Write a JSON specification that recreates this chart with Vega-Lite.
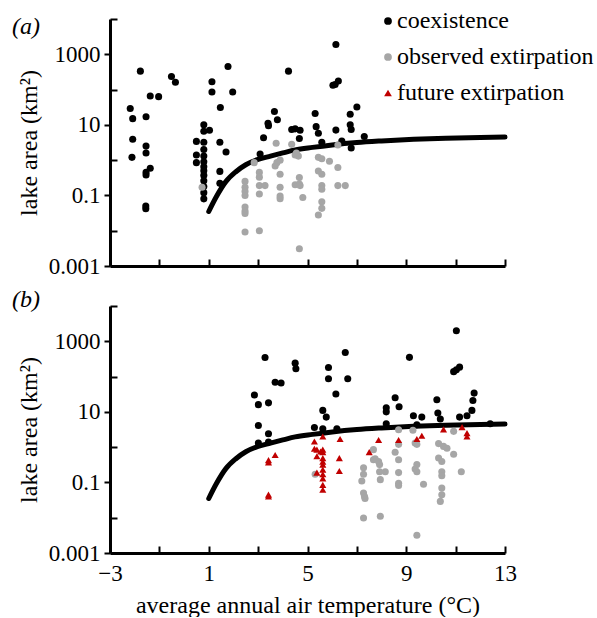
{
  "$schema": "https://vega.github.io/schema/vega-lite/v6.json",
  "padding": {"left": 12, "top": 8, "right": 0, "bottom": 0},
  "config": {
    "font": "Liberation Serif",
    "view": {"stroke": null},
    "axis": {"grid": false, "domainColor": "#000", "domainWidth": 3, "tickColor": "#000", "tickWidth": 2, "labelColor": "#000", "titleColor": "#000", "labelFont": "Liberation Serif", "titleFont": "Liberation Serif", "labelFontSize": 23, "titleFontSize": 24, "titleFontWeight": "normal", "labelFlush": false, "labelOverlap": false},
    "title": {"font": "Liberation Serif", "fontSize": 24, "fontWeight": "normal", "fontStyle": "italic", "color": "#000"},
    "legend": {"labelFont": "Liberation Serif", "labelFontSize": 24, "labelColor": "#000", "labelLimit": 400, "symbolSize": 60, "symbolStrokeWidth": 0, "labelOffset": -3, "rowPadding": 12, "padding": 0}
  },
  "datasets": {
    "curve": [
      {"t": 1, "a": 0.035}, {"t": 1.3, "a": 0.09}, {"t": 1.7, "a": 0.25}, {"t": 2.1, "a": 0.47}, {"t": 2.5, "a": 0.74}, {"t": 3.0, "a": 1.05}, {"t": 3.5, "a": 1.3}, {"t": 4.0, "a": 1.6}, {"t": 4.5, "a": 1.95}, {"t": 5.2, "a": 2.3}, {"t": 6.0, "a": 2.7}, {"t": 7.0, "a": 3.15}, {"t": 8.0, "a": 3.5}, {"t": 9.3, "a": 3.9}, {"t": 10.6, "a": 4.2}, {"t": 12, "a": 4.4}, {"t": 13, "a": 4.5}
    ],
    "pa": [
      {"t": -2.18, "a": 29, "s": "coexistence"}, {"t": -2.08, "a": 15, "s": "coexistence"}, {"t": -2.08, "a": 3.9, "s": "coexistence"}, {"t": -2.11, "a": 1.2, "s": "coexistence"}, {"t": -1.77, "a": 333, "s": "coexistence"}, {"t": -1.54, "a": 17, "s": "coexistence"}, {"t": -1.54, "a": 2.5, "s": "coexistence"}, {"t": -1.54, "a": 1.6, "s": "coexistence"}, {"t": -1.37, "a": 66, "s": "coexistence"}, {"t": -1.03, "a": 63, "s": "coexistence"}, {"t": -1.37, "a": 0.59, "s": "coexistence"}, {"t": -1.54, "a": 0.45, "s": "coexistence"}, {"t": -1.54, "a": 0.38, "s": "coexistence"}, {"t": -1.55, "a": 0.05, "s": "coexistence"}, {"t": -1.55, "a": 0.042, "s": "coexistence"}, {"t": -0.51, "a": 234, "s": "coexistence"}, {"t": -0.35, "a": 162, "s": "coexistence"},
      {"t": 0.5, "a": 3.4, "s": "coexistence"}, {"t": 0.5, "a": 1.4, "s": "coexistence"}, {"t": 0.5, "a": 0.85, "s": "coexistence"}, {"t": 0.8, "a": 10, "s": "coexistence"}, {"t": 0.8, "a": 6.6, "s": "coexistence"}, {"t": 0.8, "a": 3.2, "s": "coexistence"}, {"t": 0.8, "a": 2.0, "s": "coexistence"}, {"t": 0.8, "a": 1.3, "s": "coexistence"}, {"t": 0.8, "a": 0.9, "s": "coexistence"}, {"t": 0.8, "a": 0.65, "s": "coexistence"}, {"t": 0.8, "a": 0.5, "s": "coexistence"}, {"t": 0.8, "a": 0.37, "s": "coexistence"}, {"t": 0.8, "a": 0.26, "s": "coexistence"}, {"t": 0.8, "a": 0.18, "s": "coexistence"}, {"t": 0.8, "a": 0.12, "s": "coexistence"}, {"t": 0.8, "a": 0.08, "s": "coexistence"}, {"t": 1.03, "a": 7, "s": "coexistence"}, {"t": 1.13, "a": 166, "s": "coexistence"}, {"t": 1.13, "a": 85, "s": "coexistence"}, {"t": 1.47, "a": 31, "s": "coexistence"}, {"t": 1.45, "a": 3.2, "s": "coexistence"}, {"t": 1.45, "a": 0.48, "s": "coexistence"}, {"t": 1.45, "a": 0.22, "s": "coexistence"}, {"t": 1.7, "a": 1.7, "s": "coexistence"}, {"t": 1.78, "a": 450, "s": "coexistence"}, {"t": 1.97, "a": 85, "s": "coexistence"},
      {"t": 3.08, "a": 1.5, "s": "coexistence"}, {"t": 3.22, "a": 4.3, "s": "coexistence"}, {"t": 3.40, "a": 11, "s": "coexistence"}, {"t": 3.42, "a": 9.5, "s": "coexistence"}, {"t": 3.66, "a": 24, "s": "coexistence"}, {"t": 3.78, "a": 14, "s": "coexistence"}, {"t": 4.23, "a": 333, "s": "coexistence"}, {"t": 4.36, "a": 7.4, "s": "coexistence"}, {"t": 4.5, "a": 7.7, "s": "coexistence"}, {"t": 4.7, "a": 7.0, "s": "coexistence"}, {"t": 4.67, "a": 4.1, "s": "coexistence"}, {"t": 5.31, "a": 21, "s": "coexistence"}, {"t": 5.35, "a": 8.9, "s": "coexistence"}, {"t": 5.44, "a": 5.8, "s": "coexistence"}, {"t": 5.58, "a": 3.2, "s": "coexistence"}, {"t": 6.03, "a": 133, "s": "coexistence"}, {"t": 6.12, "a": 140, "s": "coexistence"}, {"t": 6.25, "a": 174, "s": "coexistence"}, {"t": 6.15, "a": 1900, "s": "coexistence"}, {"t": 6.15, "a": 7.1, "s": "coexistence"}, {"t": 6.39, "a": 3.5, "s": "coexistence"}, {"t": 6.73, "a": 20, "s": "coexistence"}, {"t": 6.73, "a": 10, "s": "coexistence"}, {"t": 6.77, "a": 7.4, "s": "coexistence"}, {"t": 6.77, "a": 2.2, "s": "coexistence"}, {"t": 7.0, "a": 32, "s": "coexistence"}, {"t": 7.30, "a": 4.7, "s": "coexistence"},
      {"t": 0.73, "a": 0.17, "s": "observed extirpation"}, {"t": 2.47, "a": 0.25, "s": "observed extirpation"}, {"t": 2.47, "a": 0.17, "s": "observed extirpation"}, {"t": 2.47, "a": 0.13, "s": "observed extirpation"}, {"t": 2.47, "a": 0.10, "s": "observed extirpation"}, {"t": 2.47, "a": 0.047, "s": "observed extirpation"}, {"t": 2.47, "a": 0.036, "s": "observed extirpation"}, {"t": 2.47, "a": 0.031, "s": "observed extirpation"}, {"t": 2.47, "a": 0.0092, "s": "observed extirpation"}, {"t": 2.84, "a": 0.85, "s": "observed extirpation"}, {"t": 3.05, "a": 0.45, "s": "observed extirpation"}, {"t": 3.05, "a": 0.33, "s": "observed extirpation"}, {"t": 3.05, "a": 0.19, "s": "observed extirpation"}, {"t": 3.28, "a": 0.19, "s": "observed extirpation"}, {"t": 3.05, "a": 0.11, "s": "observed extirpation"}, {"t": 3.05, "a": 0.010, "s": "observed extirpation"}, {"t": 3.69, "a": 0.68, "s": "observed extirpation"}, {"t": 3.76, "a": 0.85, "s": "observed extirpation"}, {"t": 3.89, "a": 1.0, "s": "observed extirpation"}, {"t": 3.89, "a": 0.40, "s": "observed extirpation"}, {"t": 3.89, "a": 0.17, "s": "observed extirpation"}, {"t": 3.89, "a": 0.096, "s": "observed extirpation"}, {"t": 3.89, "a": 0.081, "s": "observed extirpation"}, {"t": 3.73, "a": 3.0, "s": "observed extirpation"}, {"t": 4.36, "a": 2.8, "s": "observed extirpation"}, {"t": 4.5, "a": 1.4, "s": "observed extirpation"}, {"t": 4.63, "a": 1.3, "s": "observed extirpation"}, {"t": 4.55, "a": 1.6, "s": "observed extirpation"}, {"t": 4.67, "a": 0.32, "s": "observed extirpation"}, {"t": 4.67, "a": 0.21, "s": "observed extirpation"}, {"t": 4.5, "a": 0.20, "s": "observed extirpation"}, {"t": 4.7, "a": 0.19, "s": "observed extirpation"}, {"t": 4.81, "a": 0.087, "s": "observed extirpation"}, {"t": 4.67, "a": 0.0031, "s": "observed extirpation"}, {"t": 5.44, "a": 1.2, "s": "observed extirpation"}, {"t": 5.58, "a": 1.1, "s": "observed extirpation"}, {"t": 5.89, "a": 0.93, "s": "observed extirpation"}, {"t": 6.23, "a": 0.62, "s": "observed extirpation"}, {"t": 5.44, "a": 0.49, "s": "observed extirpation"}, {"t": 5.58, "a": 0.40, "s": "observed extirpation"}, {"t": 5.58, "a": 0.19, "s": "observed extirpation"}, {"t": 5.58, "a": 0.15, "s": "observed extirpation"}, {"t": 6.23, "a": 0.19, "s": "observed extirpation"}, {"t": 6.53, "a": 0.19, "s": "observed extirpation"}, {"t": 5.58, "a": 0.066, "s": "observed extirpation"}, {"t": 5.58, "a": 0.043, "s": "observed extirpation"}, {"t": 5.44, "a": 0.028, "s": "observed extirpation"}, {"t": 6.23, "a": 2.7, "s": "observed extirpation"}
    ],
    "pb": [
      {"t": 2.85, "a": 30, "s": "coexistence"}, {"t": 3.01, "a": 16, "s": "coexistence"}, {"t": 3.42, "a": 18, "s": "coexistence"}, {"t": 3.01, "a": 4.1, "s": "coexistence"}, {"t": 3.42, "a": 2.4, "s": "coexistence"}, {"t": 3.01, "a": 1.3, "s": "coexistence"}, {"t": 3.42, "a": 1.4, "s": "coexistence"}, {"t": 3.28, "a": 347, "s": "coexistence"}, {"t": 3.69, "a": 69, "s": "coexistence"}, {"t": 3.93, "a": 66, "s": "coexistence"}, {"t": 4.50, "a": 240, "s": "coexistence"}, {"t": 4.53, "a": 166, "s": "coexistence"}, {"t": 6.53, "a": 480, "s": "coexistence"}, {"t": 5.85, "a": 180, "s": "coexistence"}, {"t": 5.85, "a": 87, "s": "coexistence"}, {"t": 6.63, "a": 87, "s": "coexistence"}, {"t": 6.15, "a": 32, "s": "coexistence"}, {"t": 5.62, "a": 11, "s": "coexistence"}, {"t": 5.76, "a": 7.1, "s": "coexistence"}, {"t": 5.28, "a": 3.6, "s": "coexistence"}, {"t": 5.62, "a": 3.3, "s": "coexistence"}, {"t": 6.19, "a": 3.3, "s": "coexistence"}, {"t": 11.03, "a": 2000, "s": "coexistence"}, {"t": 9.13, "a": 350, "s": "coexistence"}, {"t": 10.92, "a": 138, "s": "coexistence"}, {"t": 11.03, "a": 155, "s": "coexistence"}, {"t": 11.16, "a": 185, "s": "coexistence"}, {"t": 8.55, "a": 25, "s": "coexistence"}, {"t": 8.71, "a": 14, "s": "coexistence"}, {"t": 8.19, "a": 13, "s": "coexistence"}, {"t": 8.19, "a": 10, "s": "coexistence"}, {"t": 10.24, "a": 22, "s": "coexistence"}, {"t": 10.28, "a": 9.3, "s": "coexistence"}, {"t": 10.38, "a": 6.3, "s": "coexistence"}, {"t": 11.75, "a": 34, "s": "coexistence"}, {"t": 11.70, "a": 21, "s": "coexistence"}, {"t": 11.66, "a": 11, "s": "coexistence"}, {"t": 11.46, "a": 7.8, "s": "coexistence"}, {"t": 11.16, "a": 7.1, "s": "coexistence"}, {"t": 9.29, "a": 7.8, "s": "coexistence"}, {"t": 9.63, "a": 7.1, "s": "coexistence"}, {"t": 8.19, "a": 4.6, "s": "coexistence"}, {"t": 9.43, "a": 4.3, "s": "coexistence"}, {"t": 12.4, "a": 4.6, "s": "coexistence"},
      {"t": 5.31, "a": 0.17, "s": "observed extirpation"}, {"t": 7.67, "a": 0.85, "s": "observed extirpation"}, {"t": 7.67, "a": 0.44, "s": "observed extirpation"}, {"t": 7.27, "a": 0.26, "s": "observed extirpation"}, {"t": 7.27, "a": 0.17, "s": "observed extirpation"}, {"t": 7.20, "a": 0.11, "s": "observed extirpation"}, {"t": 7.27, "a": 0.050, "s": "observed extirpation"}, {"t": 7.31, "a": 0.040, "s": "observed extirpation"}, {"t": 7.33, "a": 0.035, "s": "observed extirpation"}, {"t": 7.27, "a": 0.0098, "s": "observed extirpation"}, {"t": 7.74, "a": 0.47, "s": "observed extirpation"}, {"t": 7.88, "a": 0.39, "s": "observed extirpation"}, {"t": 7.92, "a": 0.32, "s": "observed extirpation"}, {"t": 7.92, "a": 0.20, "s": "observed extirpation"}, {"t": 8.15, "a": 0.20, "s": "observed extirpation"}, {"t": 7.95, "a": 0.12, "s": "observed extirpation"}, {"t": 7.95, "a": 0.011, "s": "observed extirpation"}, {"t": 8.55, "a": 0.72, "s": "observed extirpation"}, {"t": 8.69, "a": 1.2, "s": "observed extirpation"}, {"t": 8.69, "a": 3.1, "s": "observed extirpation"}, {"t": 8.69, "a": 0.44, "s": "observed extirpation"}, {"t": 8.69, "a": 0.19, "s": "observed extirpation"}, {"t": 8.69, "a": 0.095, "s": "observed extirpation"}, {"t": 8.69, "a": 0.082, "s": "observed extirpation"}, {"t": 9.27, "a": 3.0, "s": "observed extirpation"}, {"t": 9.36, "a": 1.3, "s": "observed extirpation"}, {"t": 9.43, "a": 1.2, "s": "observed extirpation"}, {"t": 9.43, "a": 0.32, "s": "observed extirpation"}, {"t": 9.36, "a": 0.24, "s": "observed extirpation"}, {"t": 9.43, "a": 0.20, "s": "observed extirpation"}, {"t": 9.70, "a": 0.089, "s": "observed extirpation"}, {"t": 9.43, "a": 0.0032, "s": "observed extirpation"}, {"t": 10.31, "a": 1.26, "s": "observed extirpation"}, {"t": 10.51, "a": 1.05, "s": "observed extirpation"}, {"t": 10.65, "a": 0.93, "s": "observed extirpation"}, {"t": 10.92, "a": 0.63, "s": "observed extirpation"}, {"t": 10.31, "a": 0.49, "s": "observed extirpation"}, {"t": 10.44, "a": 0.39, "s": "observed extirpation"}, {"t": 10.44, "a": 0.20, "s": "observed extirpation"}, {"t": 10.44, "a": 0.155, "s": "observed extirpation"}, {"t": 10.44, "a": 0.069, "s": "observed extirpation"}, {"t": 10.44, "a": 0.045, "s": "observed extirpation"}, {"t": 10.38, "a": 0.029, "s": "observed extirpation"}, {"t": 11.23, "a": 0.20, "s": "observed extirpation"}, {"t": 10.92, "a": 2.8, "s": "observed extirpation"},
      {"t": 3.42, "a": 0.43, "s": "future extirpation"}, {"t": 3.42, "a": 0.37, "s": "future extirpation"}, {"t": 3.69, "a": 0.60, "s": "future extirpation"}, {"t": 3.42, "a": 0.045, "s": "future extirpation"}, {"t": 3.42, "a": 0.040, "s": "future extirpation"}, {"t": 5.28, "a": 1.45, "s": "future extirpation"}, {"t": 5.62, "a": 2.0, "s": "future extirpation"}, {"t": 6.32, "a": 1.7, "s": "future extirpation"}, {"t": 5.28, "a": 0.9, "s": "future extirpation"}, {"t": 5.38, "a": 0.85, "s": "future extirpation"}, {"t": 5.62, "a": 0.85, "s": "future extirpation"}, {"t": 5.53, "a": 0.75, "s": "future extirpation"}, {"t": 5.62, "a": 0.72, "s": "future extirpation"}, {"t": 5.38, "a": 0.55, "s": "future extirpation"}, {"t": 5.62, "a": 0.49, "s": "future extirpation"}, {"t": 5.62, "a": 0.39, "s": "future extirpation"}, {"t": 5.62, "a": 0.32, "s": "future extirpation"}, {"t": 5.62, "a": 0.23, "s": "future extirpation"}, {"t": 5.62, "a": 0.17, "s": "future extirpation"}, {"t": 5.62, "a": 0.13, "s": "future extirpation"}, {"t": 5.62, "a": 0.085, "s": "future extirpation"}, {"t": 5.62, "a": 0.062, "s": "future extirpation"}, {"t": 5.38, "a": 0.19, "s": "future extirpation"}, {"t": 6.29, "a": 0.49, "s": "future extirpation"}, {"t": 6.29, "a": 0.21, "s": "future extirpation"}, {"t": 7.5, "a": 0.72, "s": "future extirpation"}, {"t": 7.88, "a": 1.6, "s": "future extirpation"}, {"t": 8.69, "a": 1.6, "s": "future extirpation"}, {"t": 9.43, "a": 1.7, "s": "future extirpation"}, {"t": 9.63, "a": 2.1, "s": "future extirpation"}, {"t": 10.51, "a": 3.2, "s": "future extirpation"}, {"t": 11.26, "a": 3.7, "s": "future extirpation"}, {"t": 11.46, "a": 2.5, "s": "future extirpation"}, {"t": 11.46, "a": 2.0, "s": "future extirpation"}
    ]
  },
  "spacing": 10,
  "resolve": {"legend": {"color": "independent", "shape": "independent"}},
  "vconcat": [
    {
      "width": 395,
      "height": 247,
      "title": {"text": "(a)", "anchor": "start", "frame": "group", "dx": -98, "offset": -31},
      "encoding": {
        "x": {"field": "t", "type": "quantitative", "scale": {"domain": [-3, 13], "nice": false, "zero": false},
              "axis": {"title": null, "labels": false, "values": [-3, -1, 1, 3, 5, 7, 9, 11, 13], "tickSize": -7}},
        "y": {"field": "a", "type": "quantitative", "scale": {"type": "log", "domain": [0.001, 10000], "nice": false},
              "axis": {"title": "lake area (km²)", "values": [0.001, 0.01, 0.1, 1, 10, 100, 1000, 10000],
                       "labelExpr": "datum.value == 0.001 ? '0.001' : datum.value == 0.1 ? '0.1' : datum.value == 10 ? '10' : datum.value == 1000 ? '1000' : ''",
                       "tickSize": {"condition": {"test": "datum.value == 0.001 || datum.value == 0.1 || datum.value == 10 || datum.value == 1000", "value": 6}, "value": -7},
                       "labelPadding": 4, "titlePadding": 7}}
      },
      "layer": [
        {"data": {"name": "curve"}, "mark": {"type": "line", "strokeWidth": 5, "color": "#000", "interpolate": "monotone", "strokeCap": "round"}},
        {"data": {"name": "pa"}, "mark": {"type": "point", "filled": true, "opacity": 1, "size": 50, "strokeWidth": 0},
         "encoding": {
           "color": {"field": "s", "type": "nominal", "scale": {"domain": ["coexistence", "observed extirpation", "future extirpation"], "range": ["#000000", "#a6a6a6", "#c00000"]},
                     "legend": {"orient": "none", "legendX": 266, "legendY": -10, "title": null}},
           "shape": {"field": "s", "type": "nominal", "scale": {"domain": ["coexistence", "observed extirpation", "future extirpation"], "range": ["circle", "circle", "triangle-up"]},
                     "legend": {"orient": "none", "legendX": 266, "legendY": -10, "title": null}}
         }}
      ]
    },
    {
      "width": 395,
      "height": 247,
      "title": {"text": "(b)", "anchor": "start", "frame": "group", "dx": -98, "offset": -17},
      "encoding": {
        "x": {"field": "t", "type": "quantitative", "scale": {"domain": [-3, 13], "nice": false, "zero": false},
              "axis": {"title": "average annual air temperature (°C)", "values": [-3, -1, 1, 3, 5, 7, 9, 11, 13],
                       "labelExpr": "(datum.value + 3) % 4 == 0 ? datum.label : ''", "tickSize": -7, "labelPadding": 16, "titlePadding": 8}},
        "y": {"field": "a", "type": "quantitative", "scale": {"type": "log", "domain": [0.001, 10000], "nice": false},
              "axis": {"title": "lake area (km²)", "values": [0.001, 0.01, 0.1, 1, 10, 100, 1000, 10000],
                       "labelExpr": "datum.value == 0.001 ? '0.001' : datum.value == 0.1 ? '0.1' : datum.value == 10 ? '10' : datum.value == 1000 ? '1000' : ''",
                       "tickSize": {"condition": {"test": "datum.value == 0.001 || datum.value == 0.1 || datum.value == 10 || datum.value == 1000", "value": 6}, "value": -7},
                       "labelPadding": 4, "titlePadding": 7}}
      },
      "layer": [
        {"data": {"name": "curve"}, "mark": {"type": "line", "strokeWidth": 5, "color": "#000", "interpolate": "monotone", "strokeCap": "round"}},
        {"data": {"name": "pb"}, "mark": {"type": "point", "filled": true, "opacity": 1, "size": 50, "strokeWidth": 0},
         "encoding": {
           "color": {"field": "s", "type": "nominal", "scale": {"domain": ["coexistence", "observed extirpation", "future extirpation"], "range": ["#000000", "#a6a6a6", "#c00000"]}, "legend": null},
           "shape": {"field": "s", "type": "nominal", "scale": {"domain": ["coexistence", "observed extirpation", "future extirpation"], "range": ["circle", "circle", "triangle-up"]}, "legend": null}
         }}
      ]
    }
  ]
}
